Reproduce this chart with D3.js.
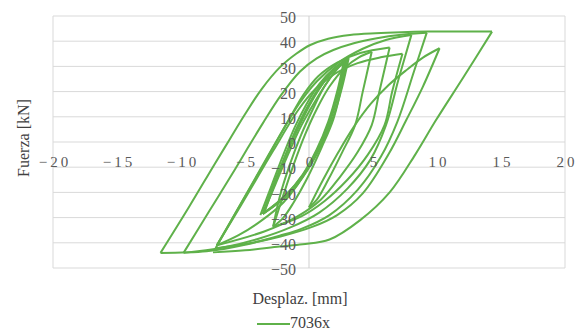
<!DOCTYPE html>
<html>
<head>
<meta charset="utf-8">
<script src="https://cdn.jsdelivr.net/npm/d3@7"></script>
<style>
  body { margin: 0; background: #fff; }
  svg { display: block; }
  svg text { font-family: "Liberation Serif", "DejaVu Serif", serif; }
</style>
</head>
<body>
<div id="chart"></div>
<script>
// tick values
const xTicks = [-20, -15, -10, -5, 0, 5, 10, 15, 20];
const yTicks = [-50, -40, -30, -20, -10, 0, 10, 20, 30, 40, 50];
const serieNombre = "7036x";

// hysteresis branches [desplaz mm, fuerza kN], in test order
// small cycles (dense band)
const carga1 = [[-3.8,-29],[-2.9,-17],[-2.0,-5],[-1.1,6],[-0.2,15],[0.8,23],[1.9,29],[2.9,32.5]];
const descarga1 = [[2.9,32.5],[2.4,21],[1.7,9],[0.8,-2],[-0.3,-12],[-1.7,-21],[-3.5,-28]];
const carga2 = [[-3.5,-28],[-2.7,-17],[-1.8,-5],[-0.9,6],[0,15],[0.9,22.5],[1.8,28],[2.7,31.5]];
const descarga2 = [[2.7,31.5],[2.2,20],[1.5,8],[0.6,-3],[-0.5,-13],[-1.9,-21.5],[-3.6,-28.5]];
const carga3 = [[-3.6,-28.5],[-2.8,-17.5],[-1.9,-6],[-1.0,5],[-0.1,14],[0.9,22],[1.9,28.5],[2.8,32]];
const descarga3 = [[2.8,32],[2.3,20.5],[1.6,8.5],[0.7,-2.5],[-0.4,-12.5],[-1.8,-21],[-3.6,-28.5]];
const carga4 = [[-3.6,-28.5],[-2.6,-16.5],[-1.6,-4.5],[-0.6,6.5],[0.4,15.5],[1.4,23.5],[2.3,29.5],[3.1,33.3]];
const descarga4 = [[3.1,33.3],[2.6,22],[1.9,10],[1.0,-1],[-0.1,-11],[-1.5,-20.5],[-3.6,-28.5]];
const carga5 = [[-3.6,-28.5],[-2.7,-16],[-1.7,-4],[-0.7,7],[0.2,16],[1.2,24],[2.1,29.5],[3.0,33]];
const descarga5 = [[3.0,33],[2.5,21],[1.9,9],[1.0,-2],[-0.2,-15],[-1.2,-24],[-2.0,-30],[-2.8,-33.6]];
const carga6 = [[-2.8,-33.6],[-2.3,-22],[-1.5,-9],[-0.6,3],[0.3,13],[1.2,22],[2.1,28.5],[3.0,33]];
const descarga6 = [[3.0,33],[2.3,20],[1.6,8],[0.7,-3],[-0.5,-14],[-2.0,-24],[-3.8,-31.5],[-5.5,-37],[-7.2,-41]];
// medium cycles
const carga7 = [[-7.2,-41],[-5.5,-26],[-3.2,-5.5],[-1.5,9.5],[-0.4,19],[0.7,26],[2.2,31.5],[4.0,35.3],[6.3,37.5]];
const descarga7 = [[6.3,37.5],[5.5,20],[4.9,6.7],[3.8,-4],[2.4,-14],[0.9,-23],[-0.9,-29.5],[-3.5,-35.5],[-7.2,-41]];
const carga8 = [[-7.2,-41],[-5.3,-25],[-2.8,-3.5],[-0.8,13],[0.5,21],[2.0,27],[3.8,31.3],[5.6,33.6],[7.3,35]];
const descarga8 = [[7.3,35],[6.5,20],[5.9,6.7],[4.6,-5],[3.0,-15],[1.2,-23.5],[-0.6,-29.5],[-2.8,-33.6]];
const carga9 = [[-2.8,-33.6],[-2.0,-21],[-1.2,-9],[-0.3,3],[0.6,13],[1.6,22],[2.8,29.5],[3.9,33.6],[4.9,35.8]];
const descarga9 = [[4.9,35.8],[4.2,20],[3.6,6.7],[2.6,-4],[1.5,-15],[0.6,-23],[0,-26]];
// large cycles
const carga10 = [[0,-26],[1.1,-15],[2.3,-4],[3.5,6],[4.8,15],[6.2,22.5],[7.6,28.5],[8.9,33.5],[10.2,37.2]];
const descarga10 = [[10.2,37.2],[8.9,22],[7.6,8.7],[6.2,-5],[4.2,-20.4],[2.2,-29],[0.3,-33.6],[-2.3,-37.6],[-5.0,-40.5],[-7.3,-42.2]];
const carga11 = [[-7.3,-42.2],[-5.6,-27],[-3.5,-8.5],[-2.0,5],[-0.8,15],[0.6,24],[2.3,31.5],[4.2,37],[6.0,40.5],[8.0,42.5]];
const descarga11 = [[8.0,42.5],[7.0,25],[6.0,6.5],[4.8,-7],[3.0,-18.5],[0.8,-28],[-1.5,-34],[-4.0,-38.5],[-6.8,-42],[-9.8,-44]];
const carga12 = [[-9.8,-44],[-7.8,-27.5],[-5.8,-11],[-4.8,-2.5],[-3.6,7.5],[-2.2,18.5],[-0.7,28],[0.6,33.2],[1.9,36.5],[3.5,39.2],[5.3,41.2],[7.2,42.6],[9.2,43.4]];
const descarga12 = [[9.2,43.4],[8.2,28],[6.9,8],[5.6,-6],[3.8,-19],[1.6,-29],[-0.6,-34.5],[-2.3,-37.2],[-5.0,-40.8],[-8.0,-43.4],[-11.6,-44]];
const carga13 = [[-11.6,-44],[-9.4,-26],[-7.4,-9],[-6.2,1],[-5.0,11],[-3.7,21],[-2.3,29.5],[-1.0,35],[0.1,38.5],[1.5,41],[3.2,42.5],[5.2,43.2],[7.2,43.6],[9.3,43.8],[11.8,43.8],[14.3,43.8]];
const descarga13 = [[14.3,43.8],[12.1,26],[9.9,8.5],[8.3,-5],[6.3,-20],[4.0,-31],[1.6,-38.7],[-0.5,-40.6],[-2.3,-41.5],[-5.0,-43],[-7.5,-43.8]];

const ramas = [carga1, descarga1, carga2, descarga2, carga3, descarga3, carga4, descarga4,
    carga5, descarga5, carga6, descarga6, carga7, descarga7, carga8, descarga8,
    carga9, descarga9, carga10, descarga10, carga11, descarga11, carga12, descarga12,
    carga13, descarga13];

const WIDTH = 580, HEIGHT = 334;
const MARGINS = { left: 53, right: 15, top: 16, bottom: 66 };
const plotW = WIDTH - MARGINS.left - MARGINS.right;
const plotH = HEIGHT - MARGINS.top - MARGINS.bottom;
const lineColor = "#5fb14a";

const svg = d3.select("#chart").append("svg")
    .attr("width", WIDTH)
    .attr("height", HEIGHT);

const g = svg.append("g")
    .attr("transform", "translate(" + MARGINS.left + "," + MARGINS.top + ")");

const xScale = d3.scaleLinear().domain([-20, 20]).range([0, plotW]);
const yScale = d3.scaleLinear().domain([-50, 50]).range([plotH, 0]);

// horizontal gridlines
g.selectAll(".grid")
    .data(yTicks)
    .enter().append("line")
    .attr("class", "grid")
    .attr("x1", 0).attr("x2", plotW)
    .attr("y1", d => yScale(d)).attr("y2", d => yScale(d))
    .attr("stroke", "#d9d9d9")
    .attr("stroke-width", 1);

// side borders of plot area
g.selectAll(".border")
    .data([-20, 20])
    .enter().append("line")
    .attr("class", "border")
    .attr("x1", d => xScale(d)).attr("x2", d => xScale(d))
    .attr("y1", 0).attr("y2", plotH)
    .attr("stroke", "#d9d9d9");

// vertical axis line at x = 0
g.append("line")
    .attr("x1", xScale(0)).attr("x2", xScale(0))
    .attr("y1", 0).attr("y2", plotH)
    .attr("stroke", "#cfcfcf");

// series
const line = d3.line()
    .x(d => xScale(d[0]))
    .y(d => yScale(d[1]))
    .curve(d3.curveCatmullRom.alpha(0.5));

g.selectAll(".rama")
    .data(ramas)
    .enter().append("path")
    .attr("class", "rama")
    .attr("d", line)
    .attr("fill", "none")
    .attr("stroke", lineColor)
    .attr("stroke-width", 2)
    .attr("stroke-linejoin", "round");

// x axis labels (axis crosses at y = 0)
const xAxis = g.append("g")
    .attr("transform", "translate(0," + yScale(0) + ")")
    .call(d3.axisBottom(xScale).tickValues(xTicks).tickSize(0).tickPadding(14).tickFormat(d3.format("d")))
    .attr("font-family", "Liberation Serif");
xAxis.select(".domain").remove();
xAxis.selectAll("text")
    .style("font-family", "'Liberation Serif', serif")
    .style("font-size", "15px")
    .style("letter-spacing", "3px")
    .attr("dx", "1.5px")
    .attr("fill", "#595959");

// y axis labels (axis crosses at x = 0)
const yAxis = g.append("g")
    .attr("transform", "translate(" + xScale(0) + ",0)")
    .call(d3.axisLeft(yScale).tickValues(yTicks).tickSize(0).tickPadding(13).tickFormat(d3.format("d")))
    .attr("font-family", "Liberation Serif");
yAxis.select(".domain").remove();
yAxis.selectAll("text")
    .style("font-family", "'Liberation Serif', serif")
    .style("font-size", "16px")
    .attr("dy", "0.42em")
    .attr("fill", "#595959");

// axis titles
svg.append("text")
    .attr("transform", "translate(29," + (MARGINS.top + plotH / 2 - 4) + ") rotate(-90)")
    .attr("text-anchor", "middle")
    .style("font-size", "16px")
    .attr("fill", "#404040")
    .text("Fuerza [kN]");

svg.append("text")
    .attr("x", 300)
    .attr("y", 304)
    .attr("text-anchor", "middle")
    .style("font-size", "16px")
    .attr("fill", "#404040")
    .text("Desplaz. [mm]");

// legend
const legend = svg.append("g").attr("transform", "translate(257,324)");
legend.append("line")
    .attr("x1", 0).attr("x2", 33)
    .attr("y1", 0).attr("y2", 0)
    .attr("stroke", lineColor)
    .attr("stroke-width", 2);
legend.append("text")
    .attr("x", 33)
    .attr("y", 4)
    .style("font-size", "16px")
    .attr("fill", "#404040")
    .text(serieNombre);
</script>
</body>
</html>
